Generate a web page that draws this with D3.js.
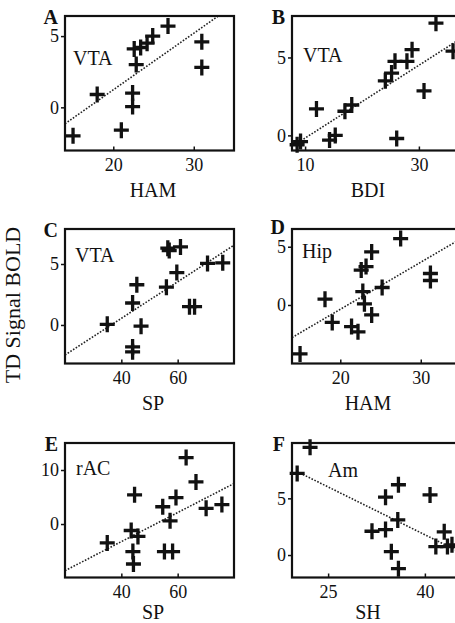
<!DOCTYPE html>
<meta charset="utf-8">
<style>
body { margin: 0; background: #fff; }
svg { display: block; }
text { font-family: "Liberation Serif", "Times New Roman", serif; fill: #111; }
.frame { fill: none; stroke: #111; stroke-width: 2.2px; }
.axis path.domain { display: none; }
.axis line { stroke: #111; stroke-width: 1.5px; }
.axis text { font-size: 18px; }
.fit { fill: none; stroke: #222; stroke-width: 1.6px; stroke-dasharray: 1.6 1.6; }
.cross { fill: none; stroke: #111; stroke-width: 3.3px; }
</style>
<svg width="455" height="623"></svg>
<script src="https://cdn.jsdelivr.net/npm/d3@7"></script>
<script>

// panel A: HAM vs VTA
var hamA = [15, 18, 21, 22.4, 22.4, 22.85, 22.6, 23.4, 24.2, 24.9, 26.8, 31, 31];
var vtaA = [-2.0, 0.9, -1.6, 1.0, 0.05, 3.0, 4.1, 4.2, 4.5, 5.0, 5.7, 4.6, 2.8];

// panel B: BDI vs VTA
var bdiB = [8.6, 9.2, 12, 14.3, 15.3, 17.0, 18.2, 24.1, 25.2, 25.8, 27.9, 28.8, 26.1, 30.9, 33.0, 36.0];
var vtaB = [-0.6, -0.4, 1.7, -0.3, 0.0, 1.55, 1.95, 3.5, 4.0, 4.75, 4.75, 5.5, -0.2, 2.85, 7.2, 5.4];

// panel C: SP vs VTA
var spC  = [35, 44, 44, 44, 45.5, 47, 56, 56.5, 57, 61, 59.7, 64.2, 66, 70.6, 76];
var vtaC = [0.05, -1.8, -2.2, 1.8, 3.3, -0.1, 3.1, 6.3, 6.1, 6.4, 4.3, 1.5, 1.5, 5.05, 5.1];

// panel D: HAM vs Hip
var hamD = [15, 18.1, 19, 21.4, 22.2, 22.6, 23.2, 22.8, 23.0, 23.9, 23.9, 25.2, 27.5, 31.2, 31.2];
var hipD = [-4.2, 0.5, -1.5, -1.85, -2.3, 3.0, 3.3, 1.15, 0.1, -0.85, 4.55, 1.5, 5.7, 2.7, 2.1];

// panel E: SP vs rAC
var spE  = [35, 43.5, 45.9, 44.7, 44.1, 44.3, 54.7, 57.3, 55.3, 58.2, 59.4, 63, 66.5, 70.1, 75.7];
var racE = [-3.5, -1.2, -2.3, 5.4, -5.1, -7.4, 3.2, 0.6, -5.1, -5.1, 4.9, 12.3, 7.8, 2.9, 3.6];

// panel F: SH vs Am
var shF = [20.2, 22.2, 33.9, 35.9, 31.8, 33.9, 35.8, 34.8, 35.9, 40.8, 41.7, 43.0, 43.5, 44.2];
var amF = [7.2, 9.5, 5.1, 6.2, 2.1, 2.25, 3.1, 0.3, -1.2, 5.3, 0.75, 2.05, 0.75, 0.9];

// regression lines: [slope, intercept, from x]
var fitA = [0.397, -6.71, 14];
var fitB = [0.2336, -2.51, 8.3];
var fitC = [0.150, -5.46, 20];
var fitD = [0.404, -8.45, 14];
var fitE = [0.269, -14.02, 20];
var fitF = [-0.281, 13.03, 20.2];

var letters = ["A", "B", "C", "D", "E", "F"];
var regions = ["VTA", "VTA", "VTA", "Hip", "rAC", "Am"];
var xTitles = ["HAM", "BDI", "SP", "HAM", "SP", "SH"];
var xTickVals = [[20, 30], [10, 30], [40, 60], [20, 30], [40, 60], [25, 40]];
var yTickVals = [[0, 5], [0, 5], [0, 5], [0, 5], [0, 10], [0, 5]];

var svg = d3.select("svg");
var colLeft = [65, 292], rowTop = [16, 229, 443];
var pw = 169, ph = 134.5;

var panels = [
  {xs: hamA, ys: vtaA, fit: fitA, xd: [14, 35],   yd: [-3.03, 6.41]},
  {xs: bdiB, ys: vtaB, fit: fitB, xd: [7.7, 37.4], yd: [-0.97, 7.66]},
  {xs: spC,  ys: vtaC, fit: fitC, xd: [20, 80],   yd: [-3.16, 7.87]},
  {xs: hamD, ys: hipD, fit: fitD, xd: [14, 35],   yd: [-5.02, 6.52]},
  {xs: spE,  ys: racE, fit: fitE, xd: [20, 80],   yd: [-9.9, 15.0]},
  {xs: shF,  ys: amF,  fit: fitF, xd: [19.4, 45.6], yd: [-1.98, 9.88]}
];

// where region names sit, relative to the frame
var labelDx = [8, 11, 10, 10, 11, 36], labelDy = [49, 46, 33, 29, 32, 34];
var titleDy = [46, 46, 41];
var letterDy = [8, 8, 8, 5, 8, 8];

panels.forEach(function(p, i) {
  var col = i % 2, row = Math.floor(i / 2);
  var g = svg.append("g")
      .attr("transform", "translate(" + colLeft[col] + "," + rowTop[row] + ")");

  var x = d3.scaleLinear().domain(p.xd).range([0, pw]),
      y = d3.scaleLinear().domain(p.yd).range([ph, 0]);

  g.append("clipPath").attr("id", "clip" + i)
    .append("rect").attr("width", pw).attr("height", ph);

  g.append("g").attr("class", "axis")
      .call(d3.axisLeft(y).tickValues(yTickVals[i]).tickSize(4).tickPadding(2).tickFormat(d3.format("d")));

  g.append("g").attr("class", "axis")
      .attr("transform", "translate(0," + ph + ")")
      .call(d3.axisBottom(x).tickValues(xTickVals[i]).tickSizeInner(-4).tickSizeOuter(0).tickPadding(8).tickFormat(d3.format("d")));

  // dotted regression line
  var x1 = p.xd[1];
  g.append("path")
      .attr("class", "fit")
      .attr("clip-path", "url(#clip" + i + ")")
      .attr("d", d3.line()([
        [x(p.fit[2]), y(p.fit[0] * p.fit[2] + p.fit[1])],
        [x(x1), y(p.fit[0] * x1 + p.fit[1])]
      ]));

  g.selectAll(".cross")
    .data(p.xs.map(function(d, k) { return [d, p.ys[k]]; }))
    .enter().append("path")
      .attr("class", "cross")
      .attr("transform", function(d) { return "translate(" + x(d[0]) + "," + y(d[1]) + ")"; })
      .attr("d", "M-7.5,0H7.5M0,-8V8");

  g.append("rect").attr("class", "frame").attr("width", pw).attr("height", ph);

  g.append("text")
      .attr("x", -7).attr("y", letterDy[i])
      .attr("text-anchor", "end")
      .style("font-size", "20px").style("font-weight", "bold")
      .text(letters[i]);

  g.append("text")
      .attr("x", labelDx[i]).attr("y", labelDy[i])
      .style("font-size", "20px")
      .text(regions[i]);

  g.append("text")
      .attr("x", col === 0 ? 88 : 76).attr("y", ph + titleDy[row])
      .attr("text-anchor", "middle")
      .style("font-size", "20px")
      .text(xTitles[i]);
});

svg.append("text")
    .attr("transform", "translate(20,305) rotate(-90)")
    .attr("text-anchor", "middle")
    .style("font-size", "22px")
    .text("TD Signal BOLD");

</script>
